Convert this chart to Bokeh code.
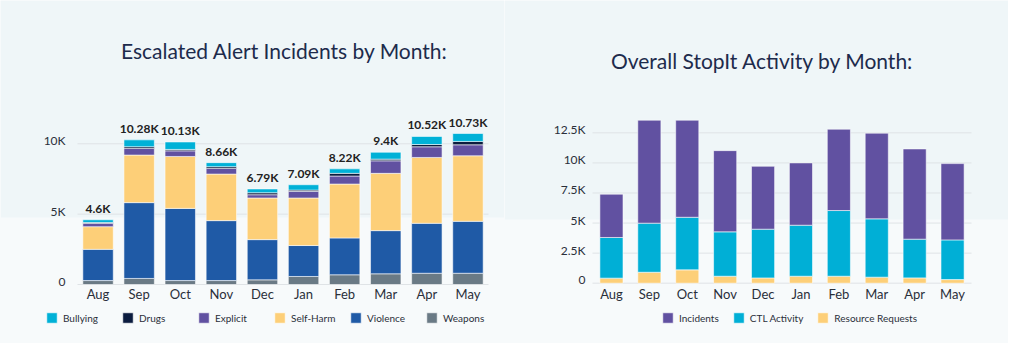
from bokeh.plotting import figure
from bokeh.models import (ColumnDataSource, Legend, LegendItem, Label, Range1d, BoxAnnotation)
from bokeh.layouts import row
from bokeh.embed import file_html
from bokeh.resources import INLINE
from bokeh.core.properties import value

months = ["Aug", "Sep", "Oct", "Nov", "Dec", "Jan", "Feb", "Mar", "Apr", "May"]

# Escalated alert incidents (stack order bottom -> top)
weapons   = [280, 430, 280, 280, 330, 570, 690, 760, 800, 800]
violence  = [2220, 5390, 5130, 4260, 2860, 2200, 2620, 3070, 3550, 3690]
self_harm = [1610, 3380, 3690, 3310, 2960, 3380, 3830, 4070, 4680, 4660]
explicit  = [240, 470, 400, 400, 230, 470, 570, 890, 760, 780]
drugs     = [50, 120, 100, 120, 140, 90, 190, 120, 160, 240]
bullying  = [200, 490, 530, 290, 270, 380, 320, 490, 570, 560]
totals_labels = ["4.6K", "10.28K", "10.13K", "8.66K", "6.79K", "7.09K", "8.22K", "9.4K", "10.52K", "10.73K"]
left_ticks = [0, 5000, 10000]
left_tick_labels = ["0", "5K", "10K"]

# Overall StopIt activity (stack order bottom -> top)
resource_requests = [420, 910, 1110, 580, 440, 580, 580, 500, 440, 300]
ctl_activity      = [3380, 4080, 4370, 3690, 4050, 4240, 5460, 4850, 3220, 3300]
incidents         = [3600, 8560, 8070, 6750, 5230, 5180, 6760, 7120, 7500, 6340]
right_ticks = [0, 2500, 5000, 7500, 10000, 12500]
right_tick_labels = ["0", "2.5K", "5K", "7.5K", "10K", "12.5K"]

BG = "#eff6f8"
BG_LOW = "#f7fafb"
GRID = "#dfe3e6"
TXT = "#2a2f3a"
TITLE = "#1d2b4c"
FONT = "Lato"
W, H = 504, 343


def make_fig(zero_px, px_per_unit, left_px, cat_px, low_band_top):
    ymin = -(H - zero_px) / px_per_unit
    ymax = zero_px / px_per_unit
    xmin = -0.5 - left_px / cat_px
    xmax = -0.5 + (W - left_px) / cat_px
    p = figure(width=W, height=H, x_range=Range1d(xmin, xmax), y_range=Range1d(ymin, ymax),
               output_backend="svg", toolbar_location=None,
               min_border_left=0, min_border_right=0, min_border_top=0, min_border_bottom=0)
    p.xaxis.visible = False
    p.yaxis.visible = False
    p.xgrid.visible = False
    p.ygrid.visible = False
    p.background_fill_color = BG
    p.border_fill_color = BG
    p.outline_line_color = None
    p.add_layout(BoxAnnotation(top=low_band_top, fill_color=BG_LOW, fill_alpha=1,
                               line_color=None, level="underlay"))
    return p


def add_axes(p, ticks, tick_labels, idx, ylab_off, xlab_off):
    n = len(idx)
    gs = ColumnDataSource(dict(x0=[-0.5] * len(ticks), x1=[n - 0.5] * len(ticks), y=ticks,
                               t=tick_labels))
    p.segment(x0="x0", y0="y", x1="x1", y1="y", source=gs, line_color=GRID, line_width=1)
    p.text(x="x0", y="y", text="t", source=gs, x_offset=-ylab_off, y_offset=-3,
           text_align="right", text_baseline="middle", text_font=value(FONT),
           text_font_size="12px", text_color=TXT)
    ms = ColumnDataSource(dict(x=idx, y=[0] * n, t=months))
    p.text(x="x", y="y", text="t", source=ms, y_offset=xlab_off, text_align="center",
           text_baseline="top", text_font=value(FONT), text_font_size="13px", text_color=TXT)


idx = list(range(len(months)))

# ---------------- Left chart ----------------
p1 = make_fig(284, 14.07 / 1000, 77, 41.1, 4760)
add_axes(p1, left_ticks, left_tick_labels, idx, 12, 1)
src1 = ColumnDataSource(dict(x=idx, Weapons=weapons, Violence=violence,
                             SelfHarm=self_harm, Explicit=explicit, Drugs=drugs,
                             Bullying=bullying))
keys1 = ["Weapons", "Violence", "SelfHarm", "Explicit", "Drugs", "Bullying"]
cols1 = ["#6a7a85", "#1f5aa6", "#fdcf78", "#6151a1", "#0b1c3f", "#00b1d7"]
r1 = p1.vbar_stack(keys1, x="x", width=0.74, color=cols1, source=src1,
                   line_color="white", line_width=0.8, line_alpha=0.7)
tot = [a + b + c + d + e + f for a, b, c, d, e, f in
       zip(weapons, violence, self_harm, explicit, drugs, bullying)]
lsrc = ColumnDataSource(dict(x=idx, y=tot, t=totals_labels))
p1.text(x="x", y="y", text="t", source=lsrc, text_align="center", text_baseline="bottom",
        y_offset=-4, text_font=value(FONT), text_font_size="12px", text_font_style="bold",
        text_color="#222222")
names1 = ["Bullying", "Drugs", "Explicit", "Self-Harm", "Violence", "Weapons"]
order = [5, 4, 3, 2, 1, 0]
items1 = [LegendItem(label=n, renderers=[r1[i]]) for n, i in zip(names1, order)]
leg1 = Legend(items=items1, orientation="horizontal", location=(45, 19),
              glyph_width=13, glyph_height=13, label_standoff=5, label_width=50, spacing=8,
              padding=0, margin=0, border_line_color=None, background_fill_alpha=0,
              label_text_font=FONT, label_text_font_size="10px", label_text_color=TXT,
              label_height=13)
p1.add_layout(leg1, "center")
p1.add_layout(Label(x=284, y=H - 50, x_units="screen", y_units="screen",
                    text="Escalated Alert Incidents by Month:",
                    text_align="center", text_baseline="middle", text_font=FONT,
                    text_font_size="21px", text_color=TITLE))

# ---------------- Right chart ----------------
p2 = make_fig(282.7, 12.03 / 1000, 88, 37.9, 5300)
add_axes(p2, right_ticks, right_tick_labels, idx, 7, 3)
src2 = ColumnDataSource(dict(x=idx, Resource=resource_requests,
                             CTL=ctl_activity, Incidents=incidents))
keys2 = ["Resource", "CTL", "Incidents"]
cols2 = ["#fdcf78", "#00afd6", "#6151a1"]
r2 = p2.vbar_stack(keys2, x="x", width=0.61, color=cols2, source=src2,
                   line_color="white", line_width=0.8, line_alpha=0.7)
items2 = [LegendItem(label="Incidents", renderers=[r2[2]]),
          LegendItem(label="CTL Activity", renderers=[r2[1]]),
          LegendItem(label="Resource Requests", renderers=[r2[0]])]
leg2 = Legend(items=items2, orientation="horizontal", location=(157, 19),
              glyph_width=13, glyph_height=13, label_standoff=5, spacing=13,
              padding=0, margin=0, border_line_color=None, background_fill_alpha=0,
              label_text_font=FONT, label_text_font_size="10px", label_text_color=TXT,
              label_height=13)
p2.add_layout(leg2, "center")
p2.add_layout(Label(x=258, y=H - 60, x_units="screen", y_units="screen",
                    text="Overall StopIt Activity by Month:",
                    text_align="center", text_baseline="middle", text_font=FONT,
                    text_font_size="21px", text_color=TITLE))

layout = row(p1, p2, spacing=0)
html = file_html(layout, INLINE)
open("out.html", "w").write(html)
